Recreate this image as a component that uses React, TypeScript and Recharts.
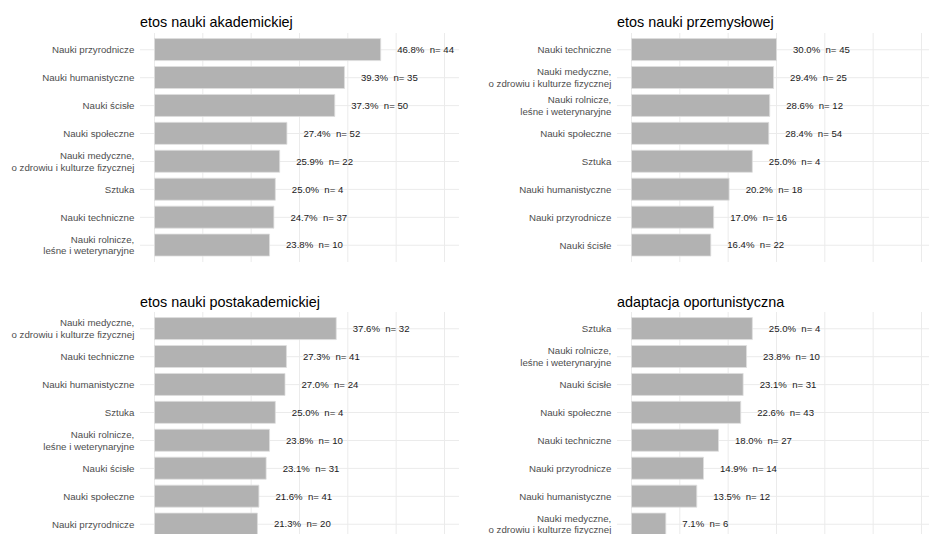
import React from 'react';
import { BarChart, Bar, XAxis, YAxis, CartesianGrid, LabelList } from 'recharts';

const FONT = '"Liberation Sans", Arial, Helvetica, sans-serif';
const MED = 'Nauki medyczne,\no zdrowiu i kulturze fizycznej';
const ROL = 'Nauki rolnicze,\nleśne i weterynaryjne';

const akademTitle = 'etos nauki akademickiej';
const akademCats = ['Nauki przyrodnicze', 'Nauki humanistyczne', 'Nauki ścisłe', 'Nauki społeczne', MED, 'Sztuka', 'Nauki techniczne', ROL];
const akademPct = [46.8, 39.3, 37.3, 27.4, 25.9, 25.0, 24.7, 23.8];
const akademN = [44, 35, 50, 52, 22, 4, 37, 10];

const przemTitle = 'etos nauki przemysłowej';
const przemCats = ['Nauki techniczne', MED, ROL, 'Nauki społeczne', 'Sztuka', 'Nauki humanistyczne', 'Nauki przyrodnicze', 'Nauki ścisłe'];
const przemPct = [30.0, 29.4, 28.6, 28.4, 25.0, 20.2, 17.0, 16.4];
const przemN = [45, 25, 12, 54, 4, 18, 16, 22];

const postTitle = 'etos nauki postakademickiej';
const postCats = [MED, 'Nauki techniczne', 'Nauki humanistyczne', 'Sztuka', ROL, 'Nauki ścisłe', 'Nauki społeczne', 'Nauki przyrodnicze'];
const postPct = [37.6, 27.3, 27.0, 25.0, 23.8, 23.1, 21.6, 21.3];
const postN = [32, 41, 24, 4, 10, 31, 41, 20];

const oportTitle = 'adaptacja oportunistyczna';
const oportCats = ['Sztuka', ROL, 'Nauki ścisłe', 'Nauki społeczne', 'Nauki techniczne', 'Nauki przyrodnicze', 'Nauki humanistyczne', MED];
const oportPct = [25.0, 23.8, 23.1, 22.6, 18.0, 14.9, 13.5, 7.1];
const oportN = [4, 10, 31, 43, 27, 14, 12, 6];

const xTicks = [0, 10, 20, 30, 40, 50, 60];
const xDomain: [number, number] = [-3, 63];

const AXIS_W = 140;
const PLOT_W = 319;
const PLOT_H = 229;

const applyScale = (s: any, v: any) => (typeof s === 'function' ? s(v) : s && s.map ? s.map(v) : 0);

const CategoryTick = (props: any) => {
  const { x, y, payload } = props;
  const lines = String(payload.value).split('\n');
  const lh = 11.6;
  const start = y - ((lines.length - 1) * lh) / 2 + 3.4;
  return (
    <text textAnchor="end" fill="#4d4d4d" fontSize={9.7} fontFamily={FONT}>
      {lines.map((l, i) => (
        <tspan key={i} x={x} y={start + i * lh}>{l}</tspan>
      ))}
    </text>
  );
};

const makeLabel = (rows: any[]) => (props: any) => {
  const { x, y, width, height, index } = props;
  const r = rows[index];
  return (
    <text
      x={x + width + 16.5}
      y={y + height / 2 + 3.4}
      fontSize={9.6}
      fontFamily={FONT}
      fill="#1a1a1a"
      xmlSpace="preserve"
      style={{ whiteSpace: 'pre' }}
    >
      {`${r.pct.toFixed(1)}%  n= ${r.n}`}
    </text>
  );
};

const Panel = ({ title, cats, pct, n, left, top, titleBase }: any) => {
  const rows = cats.map((c: string, i: number) => ({ cat: c, pct: pct[i], n: n[i] }));
  const hGen = ({ yAxis }: any) => {
    const s = yAxis && yAxis.scale;
    if (!s) return [];
    const bw = typeof s.bandwidth === 'function' ? s.bandwidth() : 0;
    return cats.map((c: string) => applyScale(s, c) + bw / 2);
  };
  const vGen = ({ xAxis }: any) => {
    const s = xAxis && xAxis.scale;
    if (!s) return [];
    return xTicks.map((t) => applyScale(s, t));
  };
  return (
    <>
      <svg style={{ position: 'absolute', left, top: 0 }} width={AXIS_W + PLOT_W} height={top}>
        <text x={AXIS_W} y={titleBase} fontSize={14.4} fontFamily={FONT} fill="#000">{title}</text>
      </svg>
      <div style={{ position: 'absolute', left, top }}>
        <BarChart
          width={AXIS_W + PLOT_W}
          height={PLOT_H}
          data={rows}
          layout="vertical"
          margin={{ top: 0, right: 0, bottom: 0, left: 0 }}
          barCategoryGap="10%"
        >
          <CartesianGrid
            stroke="#ebebeb"
            strokeWidth={1}
            horizontalCoordinatesGenerator={hGen}
            verticalCoordinatesGenerator={vGen}
          />
          <XAxis type="number" domain={xDomain} ticks={xTicks} hide allowDataOverflow />
          <YAxis
            type="category"
            dataKey="cat"
            width={AXIS_W}
            axisLine={false}
            tickLine={false}
            tickSize={0}
            tickMargin={5.7}
            interval={0}
            padding={{ top: 2.8, bottom: 2.8 }}
            tick={<CategoryTick />}
          />
          <Bar dataKey="pct" fill="#b2b2b2" stroke="#dedede" strokeWidth={0.8} isAnimationActive={false}>
            <LabelList dataKey="pct" content={makeLabel(rows)} />
          </Bar>
        </BarChart>
      </div>
    </>
  );
};

export default function App() {
  return (
    <div style={{ position: 'fixed', left: 0, top: 0, width: 929, height: 534, overflow: 'hidden', background: '#fff' }}>
      <Panel title={akademTitle} cats={akademCats} pct={akademPct} n={akademN} left={0} top={33.3} titleBase={26.5} />
      <Panel title={przemTitle} cats={przemCats} pct={przemPct} n={przemN} left={476.7} top={33.3} titleBase={26.5} />
      <Panel title={postTitle} cats={postCats} pct={postPct} n={postN} left={0} top={311.7} titleBase={306.5} />
      <Panel title={oportTitle} cats={oportCats} pct={oportPct} n={oportN} left={476.7} top={311.7} titleBase={306.5} />
    </div>
  );
}
